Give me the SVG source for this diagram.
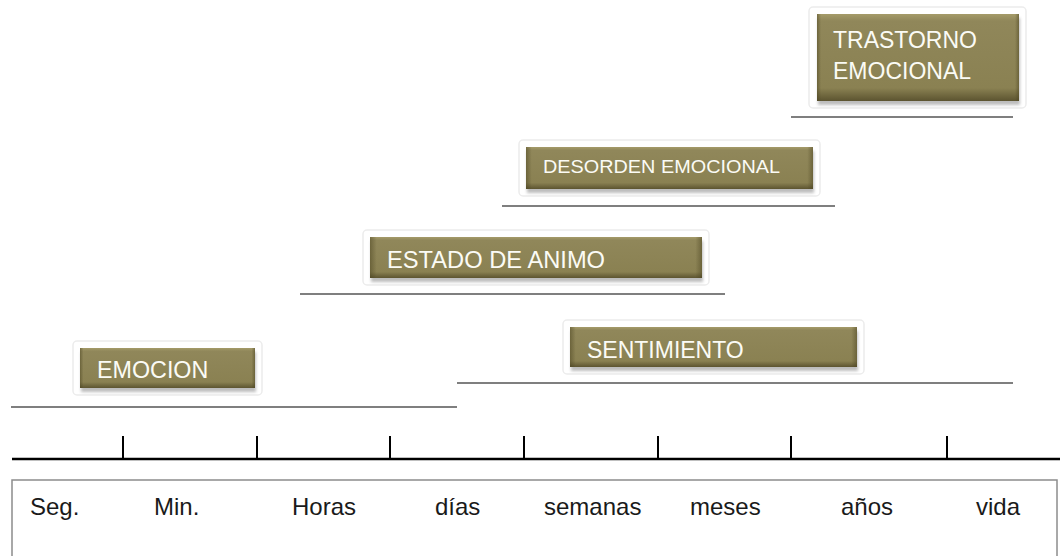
<svg xmlns="http://www.w3.org/2000/svg" width="1060" height="556" viewBox="0 0 1060 556">
<defs>
<linearGradient id="gv" x1="0" y1="0" x2="0" y2="1">
<stop offset="0" stop-color="#a59b69"/>
<stop offset="0.08" stop-color="#90875a"/>
<stop offset="0.85" stop-color="#8a8152"/>
<stop offset="1" stop-color="#5c5430"/>
</linearGradient>
<linearGradient id="gh" x1="0" y1="0" x2="1" y2="0">
<stop offset="0" stop-color="#4a4320" stop-opacity="0.5"/>
<stop offset="0.02" stop-color="#4a4320" stop-opacity="0"/>
<stop offset="0.98" stop-color="#4a4320" stop-opacity="0"/>
<stop offset="1" stop-color="#4a4320" stop-opacity="0.5"/>
</linearGradient>
<filter id="blur" x="-10%" y="-20%" width="120%" height="140%"><feGaussianBlur stdDeviation="1.5"/></filter>
</defs>
<style>
.frame{fill:#ffffff;stroke:#ececec;stroke-width:1.5}
.shadow{fill:#bdbdbd;filter:url(#blur)}
.box{fill:url(#gv)}
.edge{fill:url(#gh)}
.lbl{font-family:"Liberation Sans",Arial,sans-serif;fill:#fbfbf5}
.range{stroke:#7f7f7f;stroke-width:2}
.axis{stroke:#000;stroke-width:2.5}
.tick{stroke:#000;stroke-width:2}
.scale{font-family:"Liberation Sans",Arial,sans-serif;font-size:24px;fill:#1a1a1a}
</style>
<rect width="1060" height="556" fill="#ffffff"/>

<g id="connectors">
<line class="range" x1="791" y1="117" x2="1013" y2="117"/>
<line class="range" x1="502" y1="206" x2="835" y2="206"/>
<line class="range" x1="300" y1="294" x2="725" y2="294"/>
<line class="range" x1="457" y1="383" x2="1013" y2="383"/>
<line class="range" x1="11" y1="407" x2="457" y2="407"/>
</g>

<g id="node-trastorno">
<rect class="frame" x="809" y="7" width="217" height="101" rx="4"/>
<rect class="shadow" x="818" y="18" width="202" height="87"/>
<rect class="box" x="817" y="14" width="202" height="87"/>
<rect class="edge" x="817" y="14" width="202" height="87"/>
<text class="lbl" x="833" y="48" font-size="23">TRASTORNO</text>
<text class="lbl" x="833" y="79" font-size="23">EMOCIONAL</text>
</g>

<g id="node-desorden">
<rect class="frame" x="519" y="140" width="301" height="56" rx="4"/>
<rect class="shadow" x="527" y="151" width="287" height="42"/>
<rect class="box" x="526" y="147" width="287" height="42"/>
<rect class="edge" x="526" y="147" width="287" height="42"/>
<text class="lbl" x="543" y="173" font-size="19" textLength="237" lengthAdjust="spacingAndGlyphs">DESORDEN EMOCIONAL</text>
</g>

<g id="node-estado">
<rect class="frame" x="363" y="230" width="346" height="55" rx="4"/>
<rect class="shadow" x="371" y="241" width="332" height="41"/>
<rect class="box" x="370" y="237" width="332" height="41"/>
<rect class="edge" x="370" y="237" width="332" height="41"/>
<text class="lbl" x="387" y="268" font-size="23.7">ESTADO DE ANIMO</text>
</g>

<g id="node-sentimiento">
<rect class="frame" x="563" y="320" width="301" height="54" rx="4"/>
<rect class="shadow" x="571" y="331" width="287" height="40"/>
<rect class="box" x="570" y="327" width="287" height="40"/>
<rect class="edge" x="570" y="327" width="287" height="40"/>
<text class="lbl" x="587" y="358" font-size="23">SENTIMIENTO</text>
</g>

<g id="node-emocion">
<rect class="frame" x="73" y="341" width="189" height="54" rx="4"/>
<rect class="shadow" x="81" y="352" width="175" height="40"/>
<rect class="box" x="80" y="348" width="175" height="40"/>
<rect class="edge" x="80" y="348" width="175" height="40"/>
<text class="lbl" x="97" y="378" font-size="23.3">EMOCION</text>
</g>

<g id="timeline">
<line class="axis" x1="12" y1="459" x2="1060" y2="459"/>
<line class="tick" x1="123" y1="436" x2="123" y2="459"/>
<line class="tick" x1="257" y1="436" x2="257" y2="459"/>
<line class="tick" x1="390" y1="436" x2="390" y2="459"/>
<line class="tick" x1="524" y1="436" x2="524" y2="459"/>
<line class="tick" x1="658" y1="436" x2="658" y2="459"/>
<line class="tick" x1="791" y1="436" x2="791" y2="459"/>
<line class="tick" x1="947" y1="436" x2="947" y2="459"/>
</g>

<g id="scale-box">
<rect x="12" y="480" width="1045" height="90" fill="#ffffff" stroke="#8c8c8c" stroke-width="1.5"/>
<text class="scale" x="30" y="515">Seg.</text>
<text class="scale" x="154" y="515">Min.</text>
<text class="scale" x="292" y="515">Horas</text>
<text class="scale" x="435" y="515">días</text>
<text class="scale" x="544" y="515">semanas</text>
<text class="scale" x="690" y="515">meses</text>
<text class="scale" x="841" y="515">años</text>
<text class="scale" x="976" y="515">vida</text>
</g>
</svg>
